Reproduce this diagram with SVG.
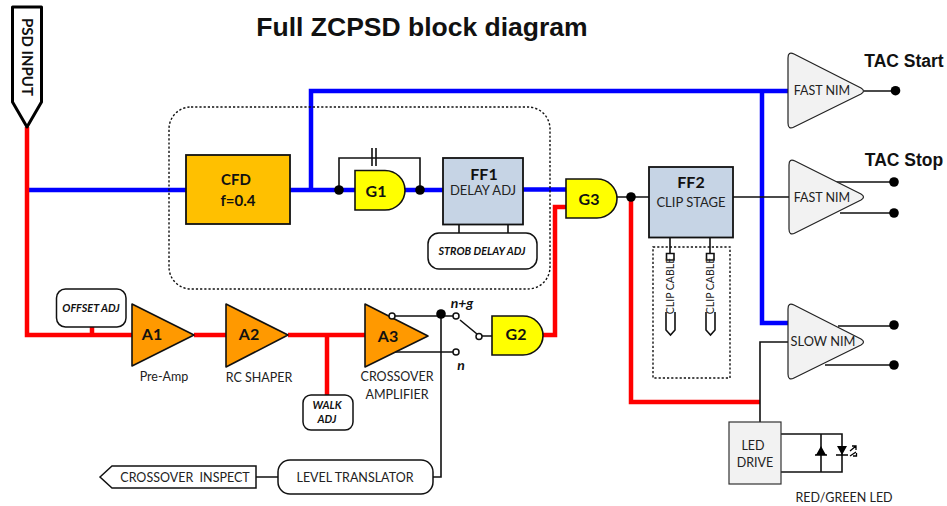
<svg xmlns="http://www.w3.org/2000/svg" width="947" height="506" viewBox="0 0 947 506">
<style>
text{font-family:"Lato","Liberation Sans",sans-serif;fill:#222;text-anchor:middle}
.t{font-family:"Liberation Sans",Arial,sans-serif;font-weight:700;fill:#111}
.b{font-weight:700;fill:#111;font-size:15px}
.s{font-size:12.500px}
.i{font-weight:700;font-style:italic;font-size:10.800px;fill:#111}
.red{fill:none;stroke:#f00;stroke-width:4.500;stroke-linejoin:miter}
.blue{fill:none;stroke:#00f;stroke-width:4.500;stroke-linejoin:miter}
.k{fill:none;stroke:#111;stroke-width:1.600}
.gate{fill:#ff0;stroke:#111;stroke-width:1.600}
.amp{fill:#f90;stroke:#111;stroke-width:1.600;stroke-linejoin:round}
.nim{fill:#f2f2f2;stroke:#222;stroke-width:1.200;stroke-linejoin:round}
.ff{fill:#c6d4e5;stroke:#111;stroke-width:1.800}
.round{fill:#fff;stroke:#111;stroke-width:1.500}
.dot{fill:#000}
.o{fill:#fff;stroke:#111;stroke-width:1.500}
.dash{fill:none;stroke:#111;stroke-width:1.400;stroke-dasharray:2.200 2}
</style>
<text class="t" x="422" y="36" font-size="26.500">Full ZCPSD block diagram</text>
<g id="connectors">
<path class="blue" d="M29 190H186M290 190H355M311 190V91H788M762 91V323H788M523 189.500H566"/>
<path class="blue" d="M405 190H443"/>
<path class="red" d="M27 127V335H132M92 335V327M194 335H226M288 335H365M327 335V395M566 207H555V335H543M631 197V402H760"/>
<path class="k" d="M339 190V158H420V190M372 158V148M376 158V148M372 158V166M376 158V166"/>
<path class="k" d="M459 224V233M508 224V233M617 197H649M733 197H790M864 91H896M836 182H894M840 213H894M838 326H894M825 365H894M788 342H760V422M670 237V254M710 237V254"/>
<path class="k" d="M392 316H456M441 314V477H433M395 352H453M460 320L477 334M482 336H492M256 477H278M781 434H842V472H781M821 434V472"/>
</g>
<g id="psd-input"><path d="M12.500 7H41.500V102L27 127L12.500 102Z" fill="#fff" stroke="#000" stroke-width="3" stroke-linejoin="round"/><text class="b" transform="translate(22 57) rotate(90)" style="font-size:15px">PSD INPUT</text></g>
<g id="guard"><rect class="dash" x="169" y="107" width="381" height="182" rx="22"/></g>
<g id="cfd"><rect x="186" y="155" width="104" height="69" fill="#ffc000" stroke="#111" stroke-width="1.800"/><text class="b" x="236" y="185">CFD</text><text class="b" x="238" y="206">f=0.4</text></g>
<g id="g1"><path class="gate" d="M355 170.500H385A20 19.750 0 0 1 385 210H355Z"/><text class="b" x="376" y="197" style="font-size:16px">G1</text><circle class="dot" cx="339" cy="190" r="4.800"/><circle class="dot" cx="420" cy="190" r="4.800"/></g>
<g id="ff1"><rect class="ff" x="443" y="158" width="80" height="66.500"/><text class="b" x="484" y="180" style="font-size:16px">FF1</text><text class="s" x="483" y="195" style="font-size:13px">DELAY ADJ</text></g>
<g id="strob"><rect class="round" x="428" y="233" width="109" height="36" rx="11"/><text class="i" x="482" y="255">STROB DELAY ADJ</text></g>
<g id="g3"><path class="gate" d="M566 179H597A20 19.500 0 0 1 597 218H566Z"/><text class="b" x="589" y="205" style="font-size:16px">G3</text><circle class="dot" cx="631" cy="197" r="4.800"/></g>
<g id="ff2"><rect class="ff" x="649" y="167" width="84" height="70.500"/><text class="b" x="691" y="188" style="font-size:16px">FF2</text><text class="s" x="691" y="207" style="font-size:13px">CLIP STAGE</text></g>
<g id="clip"><rect class="dash" x="653" y="247" width="77" height="131"/>
<path class="k" d="M666.500 253.500H674V260H666.500ZM706.500 253.500H714V260H706.500Z"/>
<text class="s" transform="translate(674 286) rotate(-90)" style="font-size:10.500px">CLIP CABLE</text>
<text class="s" transform="translate(714 286) rotate(-90)" style="font-size:10.500px">CLIP CABLE</text>
<path class="k" d="M666 312V330L670.500 335L675 330V312M706 312V330L710.500 335L715 330V312"/></g>
<g id="nim1"><path class="nim" d="M788 58Q788 51 794 54L861 88Q866 91 861 94L794 127Q788 130 788 123Z"/><text class="s" x="822" y="95">FAST NIM</text><circle class="dot" cx="895.500" cy="90.700" r="4.800"/></g>
<g id="nim2"><path class="nim" d="M789 165Q789 158 795 161L861 194Q866 197 861 200L795 233Q789 236 789 229Z"/><text class="s" x="822" y="202">FAST NIM</text><circle class="dot" cx="894" cy="182" r="4.800"/><circle class="dot" cx="894" cy="213" r="4.800"/></g>
<g id="nim3"><path class="nim" d="M788 309Q788 302 794 305L861 339Q866 342 861 345L794 378Q788 381 788 374Z"/><text class="s" x="823" y="346" style="font-size:12.800px">SLOW NIM</text><circle class="dot" cx="894" cy="325" r="4.800"/><circle class="dot" cx="894" cy="365" r="4.800"/></g>
<text class="t" x="904" y="67" font-size="17.500">TAC Start</text>
<text class="t" x="904" y="166" font-size="17.500">TAC Stop</text>
<g id="a1"><path class="amp" d="M132 304V366L194 335Z"/><text class="b" x="152" y="340" style="font-size:16px">A1</text></g>
<text class="s" x="164" y="381">Pre-Amp</text>
<g id="a2"><path class="amp" d="M226 304V367L288 335Z"/><text class="b" x="249" y="340" style="font-size:16px">A2</text></g>
<text class="s" x="259" y="382">RC SHAPER</text>
<g id="a3"><path class="amp" d="M365 304V367L428 336Z"/><text class="b" x="388" y="342" style="font-size:16px">A3</text><circle class="o" cx="392" cy="316" r="3"/></g>
<text class="s" x="397" y="381">CROSSOVER</text>
<text class="s" x="397" y="399">AMPLIFIER</text>
<g id="offset"><rect class="round" x="56.500" y="289" width="69.500" height="38" rx="9"/><text class="i" x="91" y="312">OFFSET ADJ</text></g>
<g id="walk"><rect class="round" x="303" y="395" width="50" height="35" rx="8"/><text class="i" x="327" y="409">WALK</text><text class="i" x="327" y="423">ADJ</text></g>
<g id="switch"><circle class="dot" cx="441" cy="314" r="4.800"/><circle class="o" cx="456" cy="316" r="3"/><circle class="o" cx="456" cy="352" r="3"/><circle class="o" cx="479" cy="336.500" r="3"/><text class="b" x="462" y="308" style="font-size:14px;font-style:italic">n+g</text><text class="b" x="461" y="370" style="font-size:14px;font-style:italic">n</text></g>
<g id="g2"><path class="gate" d="M492 316H523A20 19.500 0 0 1 523 355H492Z"/><text class="b" x="516" y="340" style="font-size:16px">G2</text></g>
<g id="crossover-inspect"><path class="round" d="M100 477L112 466H256V488H112Z"/><text class="s" x="185" y="482" xml:space="preserve">CROSSOVER  INSPECT</text></g>
<g id="level"><rect class="round" x="278" y="460" width="155" height="34" rx="12"/><text class="s" x="355" y="482">LEVEL TRANSLATOR</text></g>
<g id="led"><rect x="729" y="422" width="52" height="62" fill="#f2f2f2" stroke="#333" stroke-width="1.200"/><text class="s" x="753" y="450">LED</text><text class="s" x="755" y="467">DRIVE</text>
<path d="M816 455H826L821 446ZM837 446H847L842 455Z" fill="#000"/><path d="M815 455H827M836 455H848" stroke="#000" stroke-width="1.500"/>
<path d="M850 451L856 446M852 446H856V450M850 456L856 452M853 456H856.500V453" fill="none" stroke="#000" stroke-width="1.300"/></g>
<text class="s" x="844" y="502">RED/GREEN LED</text>
</svg>
